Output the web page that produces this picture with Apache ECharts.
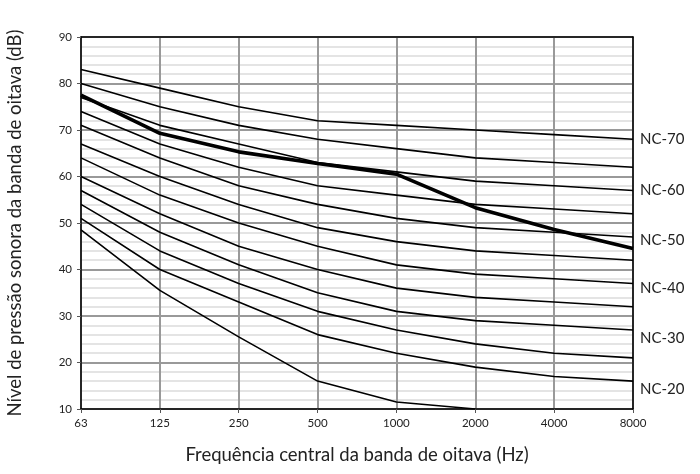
<!DOCTYPE html>
<html><head><meta charset="utf-8">
<script src="https://cdn.jsdelivr.net/npm/echarts@6/dist/echarts.min.js"></script>
<style>html,body{margin:0;padding:0;background:#fff}#c{width:700px;height:474px}</style>
</head><body><div id="c"></div>
<script>
const categories = ['63','125','250','500','1000','2000','4000','8000'];
const yTicks = [10,20,30,40,50,60,70,80,90];
const nc70 = [83,79,75,72,71,70,69,68];
const nc65 = [80,75,71,68,66,64,63,62];
const nc60 = [77,71,67,63,61,59,58,57];
const nc55 = [74,67,62,58,56,54,53,52];
const nc50 = [71,64,58,54,51,49,48,47];
const nc45 = [67,60,54,49,46,44,43,42];
const nc40 = [64,56,50,45,41,39,38,37];
const nc35 = [60,52,45,40,36,34,33,32];
const nc30 = [57,48,41,35,31,29,28,27];
const nc25 = [54,44,37,31,27,24,22,21];
const nc20 = [51,40,33,26,22,19,17,16];
const ncLow = [48.5,35.5,25.5,16,11.5,10,null,null];
const measured = [77.5,69.3,65.3,62.8,60.5,53.3,48.6,44.5];
const labelNames = {70:'NC-70',60:'NC-60',50:'NC-50',40:'NC-40',30:'NC-30',20:'NC-20'};
const labelDy = {70:0,60:0,50:3,40:5,30:8,20:8};

const FONT = 'Lato, "Open Sans", sans-serif';
const ncList = [[70,nc70],[65,nc65],[60,nc60],[55,nc55],[50,nc50],[45,nc45],[40,nc40],[35,nc35],[30,nc30],[25,nc25],[20,nc20]];
const series = ncList.map(([n,d]) => ({
  type:'line', data:d, symbol:'none', silent:true,
  lineStyle:{color:'#000', width:1.6},
  endLabel: labelNames[n] ? {show:true, formatter:labelNames[n], color:'#222', fontSize:15, fontFamily:FONT, distance:7, offset:[0,labelDy[n]]} : {show:false}
}));
series.push({type:'line', data:ncLow, symbol:'none', silent:true, lineStyle:{color:'#000', width:1.6}});
series.push({type:'line', data:measured, symbol:'none', silent:true, lineStyle:{color:'#000', width:3.6}, z:5});

const chart = echarts.init(document.getElementById('c'), null, {renderer:'canvas'});
chart.setOption({
  animation:false,
  grid:{left:81, right:67, top:37, bottom:65, outerBoundsMode:'none', containLabel:false},
  xAxis:[{
    type:'category', data:categories, boundaryGap:false,
    axisLine:{lineStyle:{color:'#000', width:1.5}},
    axisTick:{show:true, alignWithLabel:true, length:4, lineStyle:{color:'#555'}},
    axisLabel:{color:'#222', fontSize:11.5, fontFamily:FONT, margin:8},
    splitLine:{show:true, lineStyle:{color:'#999', width:2}},
    name:'Frequência central da banda de oitava (Hz)', nameLocation:'middle', nameGap:37,
    nameTextStyle:{color:'#222', fontSize:18.5, fontFamily:FONT}
  },{
    type:'category', data:categories, boundaryGap:false, position:'top',
    axisLine:{lineStyle:{color:'#000', width:1.5}}, axisTick:{show:false}, axisLabel:{show:false}, splitLine:{show:false}
  }],
  yAxis:[{
    type:'value', min:10, max:90, interval:10,
    axisLine:{show:true, lineStyle:{color:'#000', width:1.5}},
    axisTick:{show:true, length:4, lineStyle:{color:'#555'}},
    axisLabel:{color:'#222', fontSize:11.5, fontFamily:FONT, margin:9},
    splitLine:{show:true, lineStyle:{color:'#999', width:2}},
    minorTick:{show:false, splitNumber:5},
    minorSplitLine:{show:true, lineStyle:{color:'#dcdcdc', width:1.5}},
    name:'Nível de pressão sonora da banda de oitava (dB)', nameLocation:'middle', nameGap:56, nameRotate:90,
    nameTextStyle:{color:'#222', fontSize:18.5, fontFamily:FONT}
  },{
    type:'value', min:10, max:90, interval:10, position:'right',
    axisLine:{show:true, lineStyle:{color:'#000', width:1.5}}, axisTick:{show:false}, axisLabel:{show:false}, splitLine:{show:false}
  }],
  series: series
});
</script></body></html>
